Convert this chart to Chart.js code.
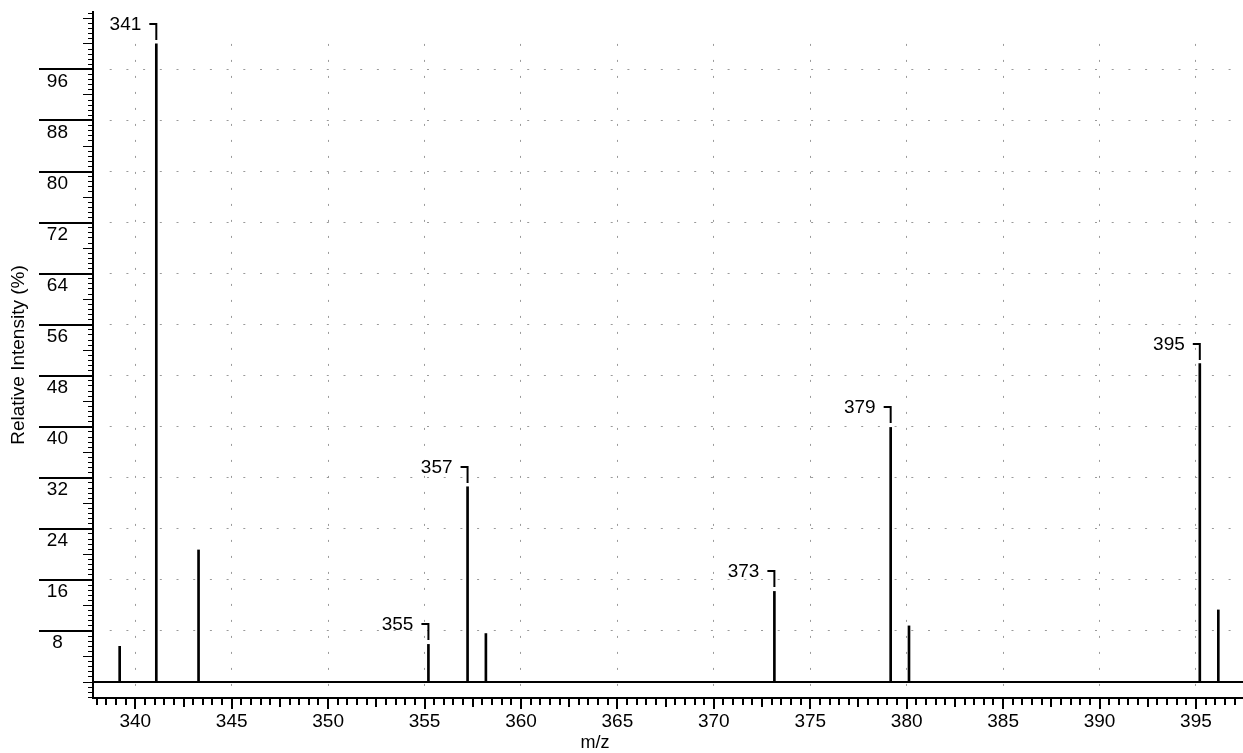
<!DOCTYPE html>
<html>
<head>
<meta charset="utf-8">
<script src="https://cdn.jsdelivr.net/npm/chart.js@4.4.0/dist/chart.umd.min.js"></script>
<style>
html,body{margin:0;padding:0;background:#fff;overflow:hidden;}
#wrap{width:1243px;height:753px;position:relative;}
</style>
</head>
<body>
<div id="wrap"><canvas id="c"></canvas></div>
<script>
// ---- data ----
const mzValues    = [339.19, 341.09, 343.28, 355.20, 357.23, 358.18, 373.14, 379.17, 380.12, 395.20, 396.16];
const intensities = [5.6,    100.0,  20.7,   5.9,    30.6,   7.6,    14.2,   39.9,   8.8,    49.9,   11.3];
const peakLabels  = ['',     '341',  '',     '355',  '357',  '',     '373',  '379',  '',     '395',  ''];
const xTickValues = [340, 345, 350, 355, 360, 365, 370, 375, 380, 385, 390, 395];
const yTickValues = [8, 16, 24, 32, 40, 48, 56, 64, 72, 80, 88, 96];
const xTitle = 'm/z';
const yTitle = 'Relative Intensity (%)';

const FONT = 'Arial, "Liberation Sans", sans-serif';
Chart.defaults.font.family = FONT;

const X_MIN = 337.807, X_MAX = 397.44, Y_MIN = -2.5, Y_MAX = 105, GRID_TOP = 100;

function crisp(v, w) { return (Math.round(v - w / 2) + w / 2); }

const gridPlugin = {
  id: 'dottedGrid',
  beforeDatasetsDraw(chart) {
    const {ctx, chartArea, scales: {x, y}} = chart;
    ctx.save();
    ctx.strokeStyle = '#9a9a9a';
    ctx.lineWidth = 1;
    // horizontal grid
    ctx.setLineDash([2, 14.7]);
    ctx.lineDashOffset = 2;
    yTickValues.forEach(v => {
      const py = crisp(y.getPixelForValue(v), 1);
      ctx.beginPath(); ctx.moveTo(chartArea.left + 2, py); ctx.lineTo(chartArea.right, py); ctx.stroke();
    });
    // vertical grid
    ctx.setLineDash([2, 14]);
    ctx.lineDashOffset = 0;
    xTickValues.forEach(v => {
      const px = crisp(x.getPixelForValue(v), 1);
      ctx.beginPath(); ctx.moveTo(px, y.getPixelForValue(GRID_TOP)); ctx.lineTo(px, chartArea.bottom - 1); ctx.stroke();
    });
    ctx.restore();
  },
  afterDatasetsDraw(chart) {
    const {ctx, chartArea, scales: {x, y}} = chart;
    ctx.save();
    ctx.strokeStyle = '#000';
    ctx.setLineDash([]);
    // baseline at 0
    const y0 = crisp(y.getPixelForValue(0), 2);
    ctx.lineWidth = 2;
    ctx.beginPath(); ctx.moveTo(chartArea.left, y0); ctx.lineTo(chartArea.right, y0); ctx.stroke();
    // y ticks (every 0.8, medium every 4, major at labelled values)
    const axX = chartArea.left;
    for (let k = -3; k <= 131; k++) {
      const v = Math.round(k * 8) / 10;
      if (v < Y_MIN || v > Y_MAX) continue;
      const major = yTickValues.some(t => Math.abs(t - v) < 1e-6);
      const medium = k % 5 === 0;
      const len = major ? 54 : (medium ? 10 : 5);
      const w = major ? 2 : 1;
      const py = crisp(y.getPixelForValue(v), w);
      ctx.lineWidth = w;
      ctx.beginPath(); ctx.moveTo(axX - len, py); ctx.lineTo(axX, py); ctx.stroke();
    }
    // x ticks (every 0.5, medium every 2.5, major at labelled values)
    const axY = chartArea.bottom + 1;
    for (let k = Math.ceil(X_MIN * 2); k <= Math.floor(X_MAX * 2); k++) {
      const v = k / 2;
      const major = xTickValues.includes(v);
      const medium = k % 5 === 0;
      const len = major ? 10 : (medium ? 8 : 6);
      const px = crisp(x.getPixelForValue(v), 2);
      ctx.lineWidth = 2;
      ctx.beginPath(); ctx.moveTo(px, axY); ctx.lineTo(px, axY + len); ctx.stroke();
    }
    // peak labels with brackets
    ctx.font = '19px ' + FONT;
    ctx.fillStyle = '#000';
    ctx.textAlign = 'right';
    ctx.textBaseline = 'middle';
    mzValues.forEach((mz, i) => {
      if (!peakLabels[i]) return;
      const px = x.getPixelForValue(mz);
      const top = y.getPixelForValue(intensities[i]);
      const by = Math.round(top - 20);
      ctx.lineWidth = 2;
      ctx.beginPath();
      ctx.moveTo(px - 7, by); ctx.lineTo(px, by); ctx.lineTo(px, by + 16);
      ctx.stroke();
      ctx.fillText(peakLabels[i], px - 15, by + 1);
    });
    // x axis title
    ctx.font = '18px ' + FONT;
    ctx.textAlign = 'center';
    ctx.fillText(xTitle, 595, 743);
    ctx.restore();
  }
};

const chart = new Chart(document.getElementById('c'), {
  type: 'bar',
  data: {
    datasets: [{
      data: mzValues.map((m, i) => ({x: m, y: intensities[i]})),
      backgroundColor: '#000',
      borderWidth: 0,
      barThickness: 2,
      grouped: false
    }]
  },
  options: {
    responsive: true,
    maintainAspectRatio: false,
    animation: false,
    events: [],
    layout: {padding: {top: 12, left: 0, right: 0, bottom: 0}},
    plugins: {legend: {display: false}, tooltip: {enabled: false}},
    scales: {
      x: {
        type: 'linear', min: X_MIN, max: X_MAX, offset: false,
        afterBuildTicks: s => { s.ticks = xTickValues.map(v => ({value: v})); },
        afterFit: s => { s.height = 55; s.paddingLeft = 0; s.paddingRight = 0; },
        grid: {display: false, drawTicks: false, offset: false},
        border: {display: true, color: '#000', width: 2},
        ticks: {color: '#000', font: {size: 19}, padding: 12, maxRotation: 0, autoSkip: false,
                callback: v => String(v)}
      },
      y: {
        type: 'linear', min: Y_MIN, max: Y_MAX,
        afterBuildTicks: s => { s.ticks = yTickValues.map(v => ({value: v})); },
        afterFit: s => { s.width = 93; s.paddingTop = 0; s.paddingBottom = 0; },
        grid: {display: false, drawTicks: false},
        border: {display: true, color: '#000', width: 2},
        ticks: {color: '#000', font: {size: 19}, crossAlign: 'center', padding: 25, labelOffset: 12,
                autoSkip: false, callback: v => String(v)},
        title: {display: true, text: yTitle, color: '#000', font: {size: 19}, padding: {top: 7, bottom: 0}}
      }
    }
  },
  plugins: [gridPlugin]
});
</script>
</body>
</html>
